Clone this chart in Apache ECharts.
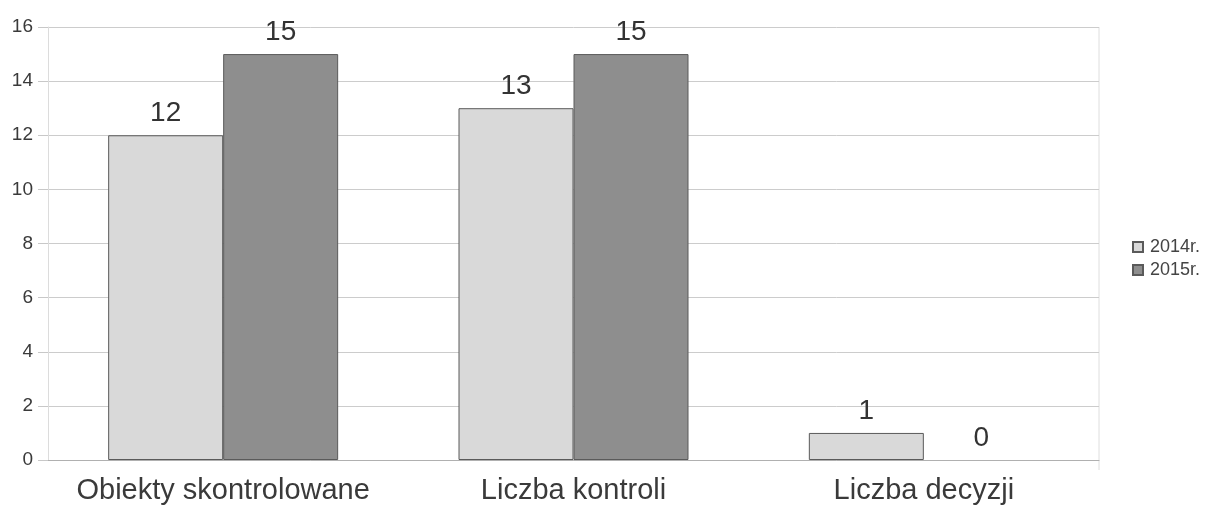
<!DOCTYPE html>
<html>
<head>
<meta charset="utf-8">
<script src="https://cdn.jsdelivr.net/npm/echarts@6/dist/echarts.min.js"></script>
<style>
  html, body { margin: 0; padding: 0; background: #ffffff; }
  #chart { width: 1211px; height: 515px; }
</style>
</head>
<body>
<div id="chart"></div>
<script>
// Categories and yearly counts
const categories = ['Obiekty skontrolowane', 'Liczba kontroli', 'Liczba decyzji'];
const values2014 = [12, 13, 1];
const values2015 = [15, 15, 0];
const seriesNames = ['2014r.', '2015r.'];
const yTicks = { min: 0, max: 16, interval: 2 };

const FONT = '"Liberation Sans", Arial, sans-serif';
const chart = echarts.init(document.getElementById('chart'));

function barSeries(name, data, fill) {
  return {
    name: name,
    type: 'bar',
    // zero-height bars get no outline so they don't leave a dark stroke on the axis
    data: data.map(v => (v === 0 ? { value: v, itemStyle: { borderWidth: 0 } } : v)),
    barWidth: 115,
    barGap: '0%',
    itemStyle: { color: fill, borderColor: '#5a5a5a', borderWidth: 1 },
    label: {
      show: true,
      position: 'top',
      distance: 8,
      fontFamily: FONT,
      fontSize: 28,
      color: '#333333'
    }
  };
}

chart.setOption({
  backgroundColor: '#ffffff',
  animation: false,
  grid: { left: 48, right: 112, top: 27, bottom: 55, containLabel: false },
  legend: {
    orient: 'vertical',
    left: 1127,
    top: 233,
    icon: 'rect',
    itemWidth: 10,
    itemHeight: 10,
    itemGap: 5,
    textStyle: { fontFamily: FONT, fontSize: 18, color: '#444444', padding: [0, 0, 0, 2] },
    data: seriesNames
  },
  xAxis: {
    type: 'category',
    data: categories,
    axisLine: { show: true, lineStyle: { color: '#b0b0b0', width: 1 } },
    axisTick: { show: false },
    axisLabel: {
      interval: 0,
      hideOverlap: false,
      margin: 16,
      fontFamily: FONT,
      fontSize: 29,
      color: '#3a3a3a'
    }
  },
  yAxis: {
    type: 'value',
    min: yTicks.min,
    max: yTicks.max,
    interval: yTicks.interval,
    axisLine: { show: true, lineStyle: { color: '#dcdcdc', width: 1 } },
    axisTick: { show: true, length: 10, lineStyle: { color: '#c8c8c8' } },
    axisLabel: {
      margin: 15,
      fontFamily: FONT,
      fontSize: 19,
      color: '#3a3a3a'
    },
    splitLine: { show: true, lineStyle: { color: '#cccccc', width: 1 } }
  },
  series: [
    barSeries(seriesNames[0], values2014, '#d9d9d9'),
    barSeries(seriesNames[1], values2015, '#8e8e8e')
  ],
  graphic: [
    {
      // right edge of the plot area
      type: 'line',
      shape: { x1: 1099, y1: 27, x2: 1099, y2: 470 },
      style: { stroke: '#dedede', lineWidth: 1 }
    }
  ]
});
</script>
</body>
</html>
